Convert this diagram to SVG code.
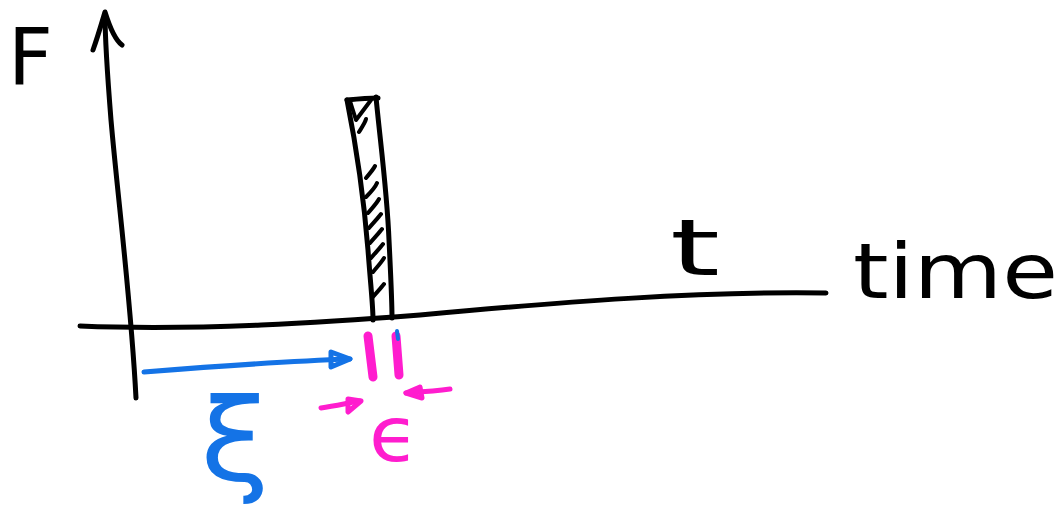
<svg xmlns="http://www.w3.org/2000/svg" width="1064" height="511" viewBox="0 0 1064 511">
<style>
.k{fill:none;stroke:#000;stroke-width:5;stroke-linecap:round;stroke-linejoin:round}
.kt{fill:none;stroke:#000;stroke-width:4;stroke-linecap:round;stroke-linejoin:round}
.b{fill:none;stroke:#1473E6;stroke-width:5;stroke-linecap:round;stroke-linejoin:round}
.p{fill:none;stroke:#FF1DCE;stroke-width:5;stroke-linecap:round;stroke-linejoin:round}
.pt{fill:none;stroke:#FF1DCE;stroke-width:9;stroke-linecap:round;stroke-linejoin:round}
.txt{font-family:"DejaVu Sans","Liberation Sans",sans-serif;}
</style>
<rect width="1064" height="511" fill="#fff"/>
<g id="connectors">
<path id="vaxis" class="k" d="M136,398 C131,300 118,200 111,120 C107,70 105,40 105,14"/>
<path class="k" d="M93,50 C98,36 102,22 105,12 C110,28 115,40 122,45"/>
<path id="haxis" class="k" d="M80,326 C200,331 330,322 420,315 C560,302 700,291 826,293"/>
<path id="xi-arrow" class="b" d="M144,372 C220,366 290,361 350,359"/>
<path class="b" d="M331,352 L350,359 L331,367 Z"/>
<path id="eps-left-arrow" class="p" d="M321,408 C335,406 348,403 360,401"/>
<path class="p" d="M348,399 L361,401 L348,412 Z"/>
<path id="eps-right-arrow" class="p" d="M450,389 C435,391 420,392 406,393"/>
<path class="p" d="M420,387 L406,393 L422,398 Z"/>
</g>
<g id="spike">
<path class="k" d="M347,100 C357,99 368,98 378,98"/>
<path class="k" d="M347,100 C355,140 364,200 368,250 C371,290 373,305 373,320"/>
<path class="k" d="M376,97 C380,140 387,190 389,240 C391,280 392,300 392,318"/>
<path class="kt" d="M350,101 L356,120 L371,100"/>
<path class="kt" d="M366,178 C370,173 373,170 375,166 M366,197 C371,192 375,188 377,183 M368,213 C373,207 377,203 379,199 M369,228 C374,222 378,218 381,214 M370,243 C375,237 379,233 382,229 M371,258 C376,252 380,248 383,244 M373,272 C377,267 381,263 384,258 M372,298 C377,292 381,288 384,284 M359,132 C362,127 365,123 366,119"/>
<path class="pt" d="M368,336 L373,377"/>
<path class="pt" d="M396,336 L399,375"/>
<path d="M397,331 L398,339" stroke="#1473E6" stroke-width="4" stroke-linecap="round"/>
</g>
<g id="label-F"><text class="txt" x="8" y="84" font-size="78" fill="#000">F</text></g>
<g id="label-t"><text class="txt" x="670" y="275" font-size="78" fill="#000" textLength="50" lengthAdjust="spacingAndGlyphs">t</text></g>
<g id="label-time"><text class="txt" x="853" y="298" font-size="76" fill="#000" textLength="205" lengthAdjust="spacingAndGlyphs">time</text></g>
<g id="label-xi"><text class="txt" x="200" y="480" font-size="114" fill="#1473E6" textLength="70" lengthAdjust="spacingAndGlyphs">ξ</text></g>
<g id="label-eps"><text class="txt" x="369" y="461" font-size="76" fill="#FF1DCE" textLength="50" lengthAdjust="spacingAndGlyphs">ϵ</text></g>
</svg>
